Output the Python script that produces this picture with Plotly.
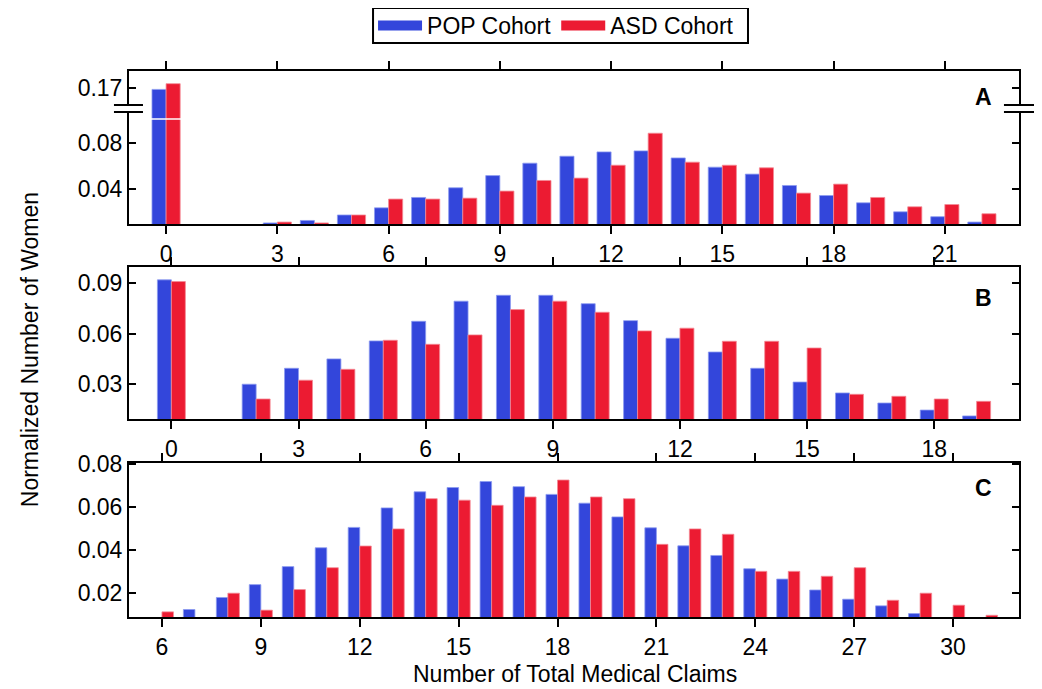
import plotly.graph_objects as go

# ---------------- data ----------------
claims_A = list(range(0, 23))
pop_A = [0.169, None, None, 0.010, 0.0122, 0.017, 0.0233, 0.0324, 0.0409, 0.0516, 0.0625,
         0.0686, 0.0724, 0.0733, 0.0671, 0.059, 0.0529, 0.0429, 0.0341, 0.0277, 0.0198, 0.0155, 0.0108]
asd_A = [0.174, None, None, 0.0108, 0.010, 0.017, 0.031, 0.031, 0.0318, 0.038, 0.0473,
         0.0494, 0.0607, 0.0888, 0.0634, 0.0607, 0.0584, 0.0362, 0.0441, 0.0324, 0.0242, 0.0262, 0.0181]

claims_B = list(range(0, 20))
pop_B = [0.092, None, 0.0298, 0.0393, 0.0449, 0.0556, 0.0673, 0.0793, 0.0828, 0.0828, 0.0778,
         0.0677, 0.0572, 0.049, 0.0393, 0.0311, 0.0246, 0.0186, 0.0144, 0.0109]
asd_B = [0.091, None, 0.021, 0.0322, 0.0387, 0.056, 0.0536, 0.0592, 0.0743, 0.0793, 0.0727,
         0.0616, 0.0632, 0.0554, 0.0554, 0.0514, 0.0238, 0.0226, 0.021, 0.0196]

claims_C = list(range(6, 32))
pop_C = [None, 0.0123, 0.0179, 0.0239, 0.0323, 0.0411, 0.0506, 0.0597, 0.0672, 0.0692, 0.072,
         0.0696, 0.066, 0.0619, 0.0555, 0.0504, 0.042, 0.0375, 0.0313, 0.0265, 0.0214, 0.0171,
         0.014, 0.0104, None, None]
asd_C = [0.0112, None, 0.0199, 0.012, 0.0216, 0.0318, 0.0419, 0.0499, 0.064, 0.0633, 0.0609,
         0.0648, 0.0727, 0.0648, 0.064, 0.0427, 0.0499, 0.0474, 0.0301, 0.0301, 0.0278, 0.0318,
         0.0166, 0.0199, 0.0143, 0.0096]

series_names = ["POP Cohort", "ASD Cohort"]
panel_labels = ["A", "B", "C"]
ticks_A_upper = [0.17]
ticks_A_lower = [0.04, 0.08]
ticks_B = [0.03, 0.06, 0.09]
ticks_C = [0.02, 0.04, 0.06, 0.08]

# ---------------- style ----------------
BLUE = "#3346DB"
RED = "#EC1B32"
BLUE_EDGE = "#8C9AF0"
RED_EDGE = "#F48A96"
FONT = "Liberation Sans, Arial, sans-serif"
FS = 23

fig = go.Figure()


def add_pair(x, pop, asd, xa, ya, w):
    fig.add_trace(go.Bar(x=x, y=pop, name=series_names[0], xaxis=xa, yaxis=ya,
                         width=w, offset=-w, marker=dict(color=BLUE, opacity=1,
                         line=dict(color=BLUE_EDGE, width=0.8)), showlegend=False))
    fig.add_trace(go.Bar(x=x, y=asd, name=series_names[1], xaxis=xa, yaxis=ya,
                         width=w, offset=0, marker=dict(color=RED, opacity=1,
                         line=dict(color=RED_EDGE, width=0.8)), showlegend=False))


add_pair(claims_A, pop_A, asd_A, "x", "y", 0.38)
add_pair(claims_A, pop_A, asd_A, "x2", "y2", 0.38)
add_pair(claims_B, pop_B, asd_B, "x3", "y3", 0.33)
add_pair(claims_C, pop_C, asd_C, "x4", "y4", 0.35)

# legend entries (wide swatches)
for nm, col in zip(series_names, [BLUE, RED]):
    fig.add_trace(go.Scatter(x=[None], y=[None], mode="lines", name=nm,
                             line=dict(color=col, width=12), xaxis="x4", yaxis="y4"))

tickfont = dict(family=FONT, size=FS, color="black")

common_x = dict(showline=True, linecolor="black", linewidth=2, ticks="outside",
                ticklen=8, tickwidth=1.5, tickcolor="black", showgrid=False,
                zeroline=False, tickfont=tickfont, tickmode="linear", dtick=3,
                automargin=False)
common_y = dict(showline=True, linecolor="black", linewidth=2, ticks="inside",
                ticklen=7, tickwidth=1.5, tickcolor="black", showgrid=False,
                zeroline=False, tickfont=tickfont, mirror="ticks", automargin=False)

fig.update_layout(
    width=1034, height=681,
    margin=dict(l=121, r=23, t=63, b=72, autoexpand=False),
    paper_bgcolor="white", plot_bgcolor="white",
    barmode="overlay",
    font=dict(family=FONT, size=FS, color="black"),
    legend=dict(orientation="h", x=0.2742, xanchor="left", y=1 - 17.5 / 681,
                yanchor="middle", yref="container", borderwidth=0,
                bgcolor="rgba(0,0,0,0)",
                font=dict(family=FONT, size=23, color="black"), itemwidth=44,
                tracegroupgap=0),
    xaxis=dict(common_x, anchor="y", side="top", range=[-1, 23], tick0=0,
               showticklabels=False),
    xaxis2=dict(common_x, anchor="y2", range=[-1, 23], tick0=0),
    xaxis3=dict(common_x, anchor="y3", range=[-1, 20], tick0=0, mirror="ticks"),
    xaxis4=dict(common_x, anchor="y4", range=[5, 32], tick0=0, mirror="ticks"),
    yaxis=dict(common_y, anchor="x", domain=[0.9121, 1.0], range=[0.1431, 0.1851],
               tickmode="array", tickvals=ticks_A_upper,
               ticktext=[f"{v:.2f}" for v in ticks_A_upper]),
    yaxis2=dict(common_y, anchor="x2", domain=[0.7198, 0.9121], range=[0.0091, 0.1013],
                tickmode="array", tickvals=ticks_A_lower,
                ticktext=[f"{v:.2f}" for v in ticks_A_lower]),
    yaxis3=dict(common_y, anchor="x3", domain=[0.3621, 0.6405], range=[0.0089, 0.0995],
                tickmode="array", tickvals=ticks_B,
                ticktext=[f"{v:.2f}" for v in ticks_B]),
    yaxis4=dict(common_y, anchor="x4", domain=[0.0, 0.2815], range=[0.0088, 0.0805],
                tickmode="array", tickvals=ticks_C,
                ticktext=[f"{v:.2f}" for v in ticks_C]),
)

shapes = []
# legend frame
shapes.append(dict(type="rect", xref="paper", yref="paper", x0=0.2742, x1=0.6955,
                   y0=1.0513, y1=1.1154, line=dict(color="black", width=2)))
# white separator across the broken bar
shapes.append(dict(type="line", xref="paper", yref="paper", x0=0.003, x1=0.997,
                   y0=0.9121, y1=0.9121, line=dict(color="white", width=1.5)))
# gaps in the y axis lines (left and right)
for xc in (0.0, 1.0):
    shapes.append(dict(type="rect", xref="paper", yref="paper", x0=xc - 0.006, x1=xc + 0.006,
                       y0=0.9262, y1=0.9364, fillcolor="white", line=dict(width=0)))
# break marks
for x0, x1 in ((-0.0169, 0.0157), (0.9831, 1.018)):
    for yy in (0.9377, 0.9249):
        shapes.append(dict(type="line", xref="paper", yref="paper", x0=x0, x1=x1,
                           y0=yy, y1=yy, line=dict(color="black", width=2)))
fig.update_layout(shapes=shapes)

annots = []
for lab, yy in zip(panel_labels, [0.952, 0.584, 0.2363]):
    annots.append(dict(text=f"<b>{lab}</b>", x=0.9596, y=yy, xref="paper", yref="paper",
                       xanchor="center", yanchor="middle", showarrow=False,
                       font=dict(family=FONT, size=FS, color="black")))
annots.append(dict(text="Normalized Number of Women", x=-0.111, y=0.489, xref="paper",
                   yref="paper", textangle=-90, showarrow=False, xanchor="center",
                   yanchor="middle", font=dict(family=FONT, size=FS, color="black")))
annots.append(dict(text="Number of Total Medical Claims", x=0.501, y=-0.104, xref="paper",
                   yref="paper", showarrow=False, xanchor="center", yanchor="middle",
                   font=dict(family=FONT, size=FS, color="black")))
fig.update_layout(annotations=annots)

fig.write_html("out.html")
